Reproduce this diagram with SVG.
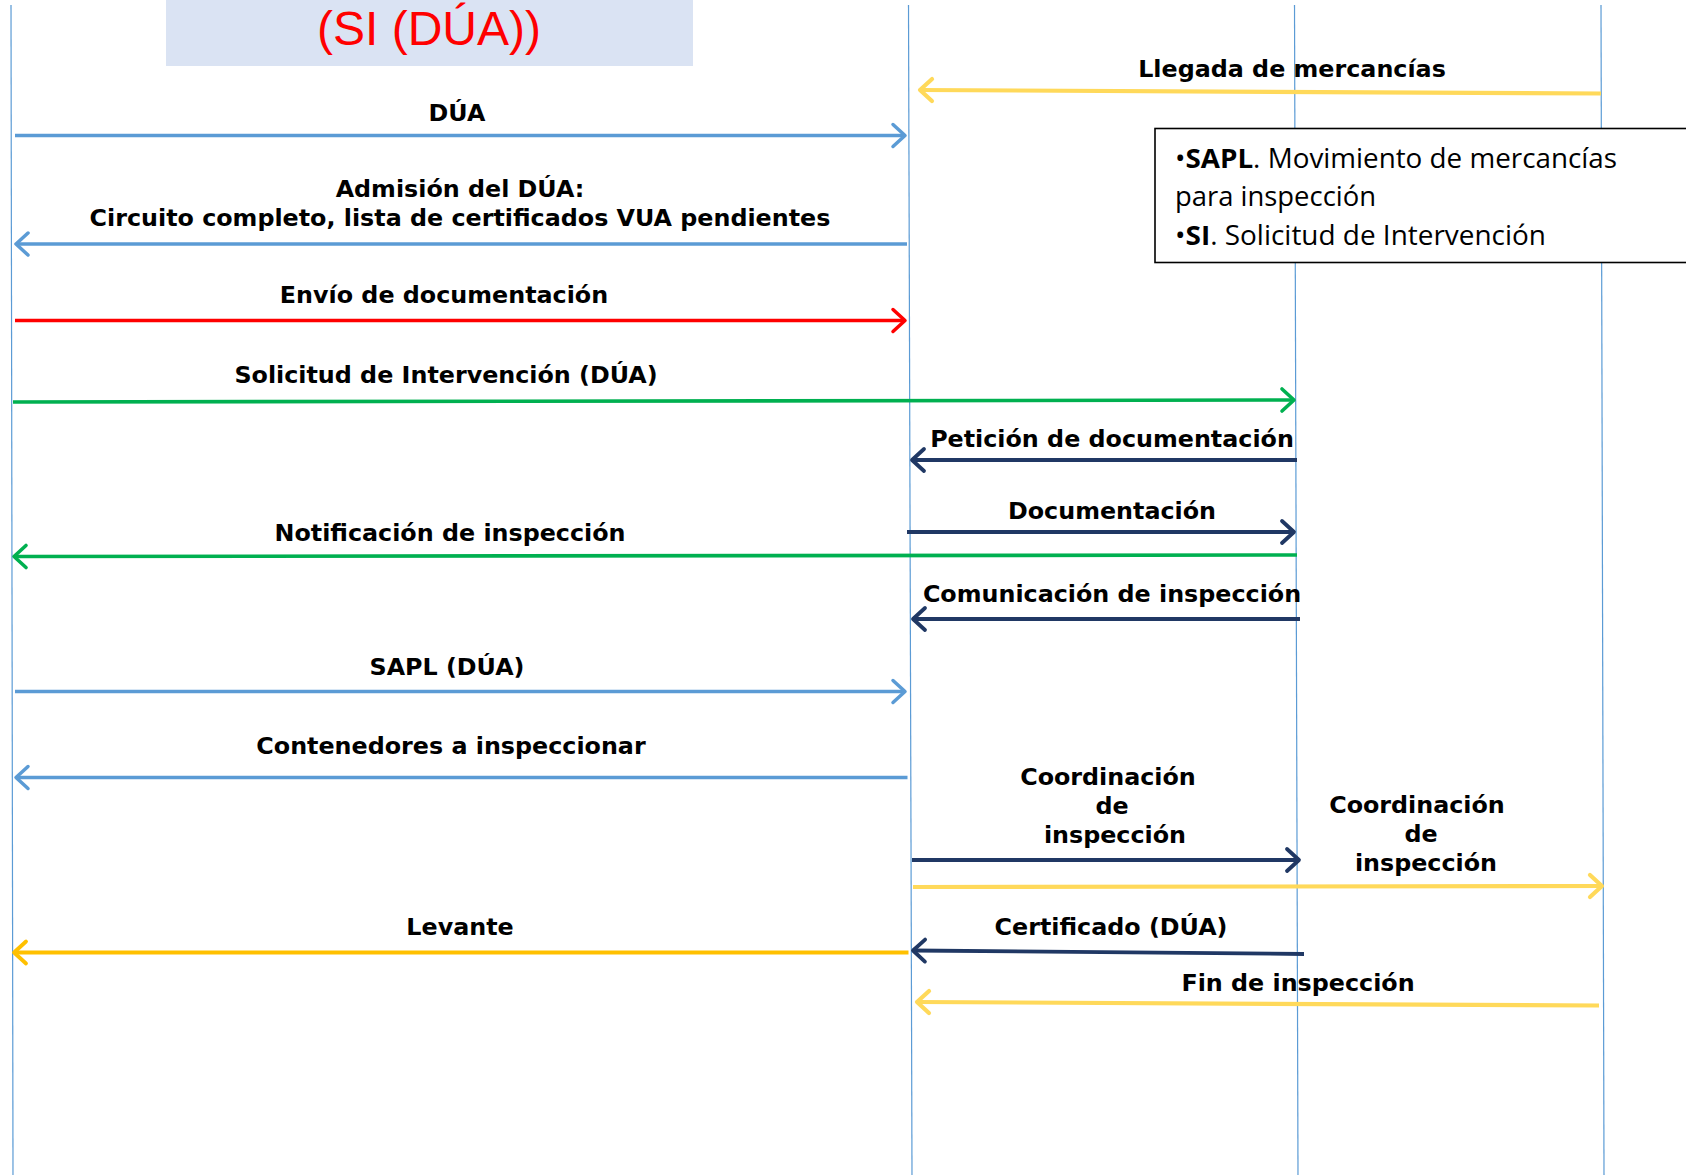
<svg xmlns="http://www.w3.org/2000/svg" width="1686" height="1175" viewBox="0 0 1686 1175">
<style>
.life{stroke:#5b9bd5;stroke-width:1.2;fill:none}
.lbl{font-family:"DejaVu Sans",Verdana,sans-serif;font-weight:bold;font-size:23.8px;fill:#000;text-anchor:middle}
.leg{font-family:"Open Sans","Liberation Sans",sans-serif;font-size:26.5px;fill:#000}
.msg{fill:none;stroke-linecap:butt}
.blue{stroke:#5b9bd5;stroke-width:3.5}
.red{stroke:#ff0000;stroke-width:3.5}
.green{stroke:#00b050;stroke-width:3.6}
.navy{stroke:#203864;stroke-width:3.8}
.yel{stroke:#ffd95a;stroke-width:4.2}
.gold{stroke:#ffc000;stroke-width:3.8}
</style>
<defs>
<marker id="mBlue" markerUnits="userSpaceOnUse" markerWidth="30" markerHeight="30" orient="auto" overflow="visible" refX="0" refY="0"><path d="M-12,-11 L0,0 L-12,11" fill="none" stroke="#5b9bd5" stroke-width="3.5" stroke-linecap="round" stroke-linejoin="round"/></marker>
<marker id="mRed" markerUnits="userSpaceOnUse" markerWidth="30" markerHeight="30" orient="auto" overflow="visible" refX="0" refY="0"><path d="M-12,-11 L0,0 L-12,11" fill="none" stroke="#ff0000" stroke-width="3.5" stroke-linecap="round" stroke-linejoin="round"/></marker>
<marker id="mGreen" markerUnits="userSpaceOnUse" markerWidth="30" markerHeight="30" orient="auto" overflow="visible" refX="0" refY="0"><path d="M-12,-11 L0,0 L-12,11" fill="none" stroke="#00b050" stroke-width="3.6" stroke-linecap="round" stroke-linejoin="round"/></marker>
<marker id="mNavy" markerUnits="userSpaceOnUse" markerWidth="30" markerHeight="30" orient="auto" overflow="visible" refX="0" refY="0"><path d="M-12,-11 L0,0 L-12,11" fill="none" stroke="#203864" stroke-width="3.8" stroke-linecap="round" stroke-linejoin="round"/></marker>
<marker id="mYel" markerUnits="userSpaceOnUse" markerWidth="30" markerHeight="30" orient="auto" overflow="visible" refX="0" refY="0"><path d="M-12,-11 L0,0 L-12,11" fill="none" stroke="#ffd95a" stroke-width="4.2" stroke-linecap="round" stroke-linejoin="round"/></marker>
<marker id="mGold" markerUnits="userSpaceOnUse" markerWidth="30" markerHeight="30" orient="auto" overflow="visible" refX="0" refY="0"><path d="M-12,-11 L0,0 L-12,11" fill="none" stroke="#ffc000" stroke-width="3.8" stroke-linecap="round" stroke-linejoin="round"/></marker>
</defs>
<rect width="1686" height="1175" fill="#ffffff"/>

<g id="title">
<rect x="166" y="0" width="527" height="66" fill="#dae3f3"/>
<text x="429" y="45" font-family="'Liberation Sans',Arial,sans-serif" font-size="48" fill="#ff0000" text-anchor="middle">(SI (DÚA))</text>
</g>

<g id="lifeline-1"><line class="life" x1="11" y1="5" x2="13" y2="1175"/></g>
<g id="lifeline-2"><line class="life" x1="908.5" y1="5" x2="912" y2="1175"/></g>
<g id="lifeline-3"><line class="life" x1="1294.5" y1="5" x2="1298" y2="1175"/></g>
<g id="lifeline-4"><line class="life" x1="1601" y1="5" x2="1604" y2="1175"/></g>

<g id="legend">
<rect x="1155" y="128.5" width="540" height="134" fill="#ffffff" stroke="#000" stroke-width="1.6"/>
<text class="leg" x="1175" y="168" textLength="442" lengthAdjust="spacingAndGlyphs">•<tspan font-weight="bold">SAPL</tspan>. Movimiento de mercancías</text>
<text class="leg" x="1175" y="206" textLength="201" lengthAdjust="spacingAndGlyphs">para inspección</text>
<text class="leg" x="1175" y="245" textLength="371" lengthAdjust="spacingAndGlyphs">•<tspan font-weight="bold">SI</tspan>. Solicitud de Intervención</text>
</g>

<g id="connectors">
<path class="msg yel" d="M1601,93.5 L920,90" marker-end="url(#mYel)"/>
<path class="msg blue" d="M15,135.5 L905,135.5" marker-end="url(#mBlue)"/>
<path class="msg blue" d="M907,244 L16,244" marker-end="url(#mBlue)"/>
<path class="msg red" d="M15,320.5 L905,320.5" marker-end="url(#mRed)"/>
<path class="msg green" d="M13,402 L1294,400" marker-end="url(#mGreen)"/>
<path class="msg navy" d="M1297,460 L912,460" marker-end="url(#mNavy)"/>
<path class="msg navy" d="M907,532 L1294,532" marker-end="url(#mNavy)"/>
<path class="msg green" d="M1297,555 L14,556.5" marker-end="url(#mGreen)"/>
<path class="msg navy" d="M1300,619 L913,619" marker-end="url(#mNavy)"/>
<path class="msg blue" d="M15,691.5 L905,691.5" marker-end="url(#mBlue)"/>
<path class="msg blue" d="M907.5,777.5 L16,777.5" marker-end="url(#mBlue)"/>
<path class="msg navy" d="M912,860 L1299,860" marker-end="url(#mNavy)"/>
<path class="msg yel" d="M913,887 L1602,886" marker-end="url(#mYel)"/>
<path class="msg gold" d="M908.5,952.5 L14,952.5" marker-end="url(#mGold)"/>
<path class="msg navy" d="M1304,954 L913,950.5" marker-end="url(#mNavy)"/>
<path class="msg yel" d="M1599,1005.5 L917,1002" marker-end="url(#mYel)"/>
</g>

<g id="labels">
<text class="lbl" x="1292" y="77">Llegada de mercancías</text>
<text class="lbl" x="457" y="121">DÚA</text>
<text class="lbl" x="460" y="197">Admisión del DÚA:</text>
<text class="lbl" x="460" y="226">Circuito completo, lista de certificados VUA pendientes</text>
<text class="lbl" x="444" y="303">Envío de documentación</text>
<text class="lbl" x="446" y="383">Solicitud de Intervención (DÚA)</text>
<text class="lbl" x="1112" y="447">Petición de documentación</text>
<text class="lbl" x="1112" y="519">Documentación</text>
<text class="lbl" x="450" y="541">Notificación de inspección</text>
<text class="lbl" x="1112" y="602">Comunicación de inspección</text>
<text class="lbl" x="447" y="675">SAPL (DÚA)</text>
<text class="lbl" x="451" y="754">Contenedores a inspeccionar</text>
<text class="lbl" x="1108" y="785">Coordinación</text>
<text class="lbl" x="1112" y="814">de</text>
<text class="lbl" x="1115" y="843">inspección</text>
<text class="lbl" x="1417" y="813">Coordinación</text>
<text class="lbl" x="1421" y="842">de</text>
<text class="lbl" x="1426" y="871">inspección</text>
<text class="lbl" x="460" y="935">Levante</text>
<text class="lbl" x="1111" y="935">Certificado (DÚA)</text>
<text class="lbl" x="1298" y="991">Fin de inspección</text>
</g>
</svg>
